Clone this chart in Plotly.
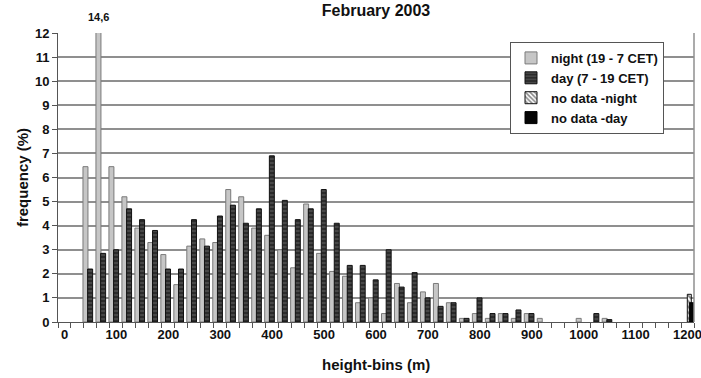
import plotly.graph_objects as go

bins = list(range(0, 1225, 25))  # 0..1200
night = [0, 0, 6.45, 14.6, 6.45, 5.2, 3.9, 3.3, 2.8, 1.55, 3.15, 3.45, 3.3, 5.5, 5.2, 3.9, 3.6,
         3.0, 2.25, 4.9, 2.85, 2.1, 1.9, 0.8, 1.0, 0.35, 1.6, 0.8, 1.25, 1.6, 0.8, 0.15, 0.35,
         0.15, 0.35, 0.15, 0.35, 0.15, 0, 0, 0.15, 0, 0.15, 0, 0, 0, 0, 0, 0]
day = [0, 0, 2.2, 2.85, 3.0, 4.7, 4.25, 3.8, 2.2, 2.2, 4.25, 3.15, 4.4, 4.85, 4.1, 4.7, 6.9,
       5.05, 4.25, 4.7, 5.5, 4.1, 2.35, 2.35, 1.75, 3.0, 1.45, 2.05, 1.0, 0.65, 0.8, 0.15, 1.0,
       0.35, 0.35, 0.5, 0.35, 0, 0, 0, 0, 0.35, 0.1, 0, 0, 0, 0, 0, 0]
nodata_night = [0] * 48 + [1.15]
nodata_day = [0] * 48 + [0.8]
x_ticks = list(range(0, 1300, 100))
y_ticks = list(range(0, 13))

FONT = "Liberation Sans, Arial, sans-serif"


def nz(vals):
    # zero-height bins are simply not drawn
    return [v if v else None for v in vals]


fig = go.Figure()
fig.add_trace(go.Bar(x=bins, y=nz(night), name="night (19 - 7 CET)", width=9.6, offset=-14.4,
                     marker=dict(color="#c6c6c6", line=dict(color="#7a7a7a", width=1))))
fig.add_trace(go.Bar(x=bins, y=nz(day), name="day (7 - 19 CET)", width=9.6, offset=-5.4,
                     marker=dict(color="#2b2b2b", line=dict(color="#111111", width=1),
                                 pattern=dict(shape="-", fgcolor="#9a9a9a", bgcolor="#2b2b2b",
                                              size=4, solidity=0.25))))
fig.add_trace(go.Bar(x=bins, y=nz(nodata_night), name="no data -night", width=7.7, offset=-0.4,
                     marker=dict(color="white", line=dict(color="#111111", width=1),
                                 pattern=dict(shape="\\", fgcolor="#111111", bgcolor="white",
                                              size=4, solidity=0.5))))
fig.add_trace(go.Bar(x=bins, y=nz(nodata_day), name="no data -day", width=9.0, offset=3.5,
                     marker=dict(color="#050505", line=dict(color="#000000", width=1))))

fig.update_layout(
    barmode="overlay",
    width=701, height=378,
    margin=dict(l=58, r=7, t=33, b=56),
    paper_bgcolor="white", plot_bgcolor="white",
    font=dict(family=FONT, size=12, color="#111111", weight="bold"),
    title=dict(text="February 2003", x=376 / 701, xanchor="center", y=0.988, yanchor="top",
               font=dict(family=FONT, size=16, weight="bold", color="#111111")),
    showlegend=True,
    legend=dict(x=(510 - 58) / 636, y=0.969, xanchor="left", yanchor="top", bgcolor="white",
                bordercolor="#555555", borderwidth=1, tracegroupgap=0,
                font=dict(family=FONT, size=13, weight="bold", color="#111111"),
                itemwidth=30),
    xaxis=dict(range=[-12.5, 1212.5], tickvals=x_ticks, ticktext=[str(v) for v in x_ticks],
               ticks="", ticklen=5, showgrid=False, zeroline=False, automargin=False,
               ticklabeloverflow="allow",
               showline=True, linecolor="#555555", linewidth=1,
               tickfont=dict(family=FONT, size=13, weight="bold", color="#111111"),
               minor=dict(tick0=12.5, dtick=25, ticks="outside", ticklen=5, tickcolor="#555555",
                          showgrid=False)),
    yaxis=dict(range=[0, 12], tickvals=y_ticks, ticks="outside", ticklen=5, tickcolor="#555555",
               showgrid=True, gridcolor="#8f8f8f", gridwidth=1.5, zeroline=False,
               automargin=False,
               showline=True, linecolor="#555555", linewidth=1,
               tickfont=dict(family=FONT, size=13, weight="bold", color="#111111"),
               title=dict(text="frequency (%)", standoff=2,
                          font=dict(family=FONT, size=15, weight="bold", color="#111111"))),
)
# right border of plot area
fig.add_shape(type="line", xref="paper", yref="paper", x0=1, x1=1, y0=0, y1=1,
              line=dict(color="#8f8f8f", width=1.5))
# value label for the clipped bar
fig.add_annotation(x=bins[3] - 14.4 + 4.8, y=1, xref="x", yref="paper", yanchor="bottom",
                   yshift=8, text="14,6", showarrow=False,
                   font=dict(family=FONT, size=11, weight="bold", color="#111111"))
fig.add_annotation(x=0.5, y=0, xref="paper", yref="paper", yanchor="middle",
                   yshift=-42, text="height-bins (m)", showarrow=False,
                   font=dict(family=FONT, size=15, weight="bold", color="#111111"))

fig.write_html("out.html", config={"displayModeBar": False},
               post_script="document.body.style.margin='0px';document.body.style.overflow='hidden';")
